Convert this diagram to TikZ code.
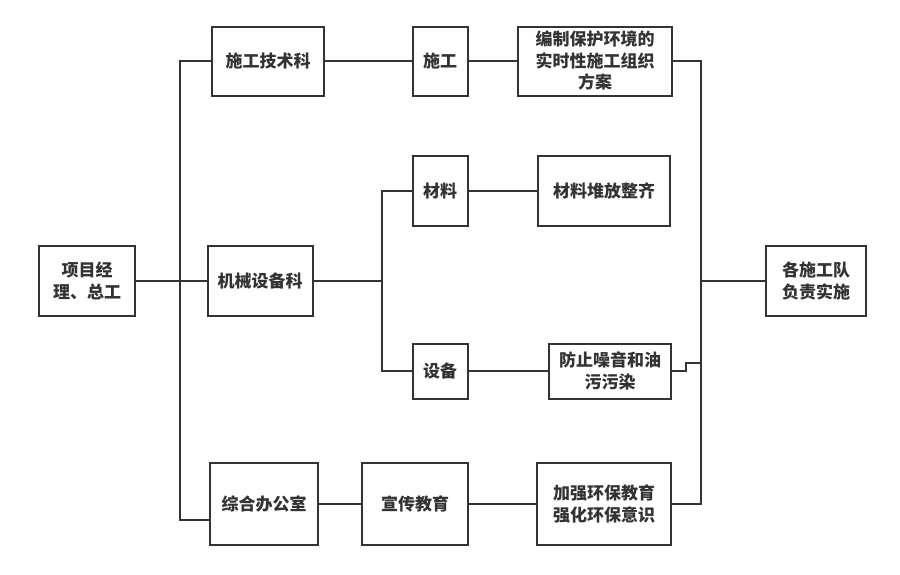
\documentclass[tikz,border=0pt]{standalone}
\usepackage{fontspec}
\setmainfont{Noto Sans CJK SC}
\definecolor{linegray}{HTML}{333333}
\tikzset{
  box/.style={draw=linegray, line width=2pt, align=center, inner sep=2pt,
    text=linegray},
  link/.style={draw=linegray, line width=2pt}
}
\begin{document}
\begin{tikzpicture}[x=1pt, y=-1pt, font=\fontsize{17}{21.5}\selectfont\bfseries]
  \useasboundingbox (0,0) rectangle (900,574);
  % left column
  \node[box, minimum width=96, minimum height=70] (xm) at (87,281) {项目经\\理、总工};
  % first row
  \node[box, minimum width=112, minimum height=69] (js) at (268,61) {施工技术科};
  \node[box, minimum width=55, minimum height=69] (sg) at (440,61) {施工};
  \node[box, minimum width=154, minimum height=69] (bz) at (595,61)
    {编制保护环境的\\实时性施工组织\\方案};
  % middle row
  \node[box, minimum width=105, minimum height=70] (jx) at (260,281) {机械设备科};
  \node[box, minimum width=55, minimum height=70] (cl) at (440,191) {材料};
  \node[box, minimum width=132, minimum height=70] (cd) at (604,191) {材料堆放整齐};
  \node[box, minimum width=55, minimum height=55] (sb) at (440,371) {设备};
  \node[box, minimum width=122, minimum height=55] (fz) at (610,371) {防止噪音和油\\污污染};
  % bottom row
  \node[box, minimum width=108, minimum height=82] (zh) at (264,504) {综合办公室};
  \node[box, minimum width=106, minimum height=82] (xc) at (415,504) {宣传教育};
  \node[box, minimum width=134, minimum height=82] (jq) at (604,504)
    {加强环保教育\\强化环保意识};
  % right column
  \node[box, minimum width=100, minimum height=70] (gs) at (816,281) {各施工队\\负责实施};
  % bus points
  \coordinate (busL) at (180,520);
  \coordinate (busM) at (382,281);
  \coordinate (busR) at (701,504);
  \coordinate (jog) at (686,363);
  % connectors
  \draw[link] (xm.east) -- (jx.west);
  \draw[link] (js.west) -| (busL) -- (busL -| zh.west);
  \draw[link] (js.east) -- (sg.west);
  \draw[link] (sg.east) -- (bz.west);
  \draw[link] (bz.east) -| (busR) -- (jq.east);
  \draw[link] (jx.east) -- (busM);
  \draw[link] (cl.west) -| (busM) |- (sb.west);
  \draw[link] (cl.east) -- (cd.west);
  \draw[link] (sb.east) -- (fz.west);
  \draw[link] (fz.east) -| (jog) -- (jog -| busR);
  \draw[link] (zh.east) -- (xc.west);
  \draw[link] (xc.east) -- (jq.west);
  \draw[link] (busR |- gs.west) -- (gs.west);
\end{tikzpicture}
\end{document}
